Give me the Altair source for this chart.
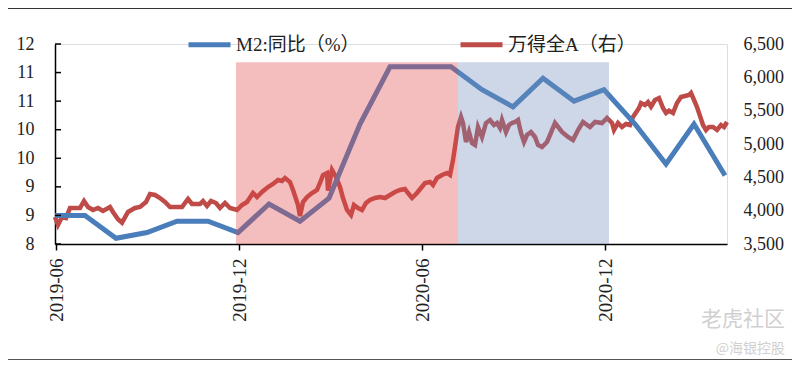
import altair as alt
import pandas as pd

# ---------------- data ----------------
series_names = ["M2:同比（%）", "万得全A（右）"]
series_colors = ["#4A7EBB", "#BE4B48"]

m2_dates = ["2019-05-31", "2019-06-30", "2019-07-31", "2019-08-31", "2019-09-30",
            "2019-10-31", "2019-11-30", "2019-12-31", "2020-01-31", "2020-02-29",
            "2020-03-31", "2020-04-30", "2020-05-31", "2020-06-30", "2020-07-31",
            "2020-08-31", "2020-09-30", "2020-10-31", "2020-11-30", "2020-12-31",
            "2021-01-31", "2021-02-28", "2021-03-31"]
m2_values = [8.5, 8.5, 8.1, 8.2, 8.4, 8.4, 8.2, 8.7, 8.4, 8.8, 10.1, 11.1, 11.1, 11.1,
             10.7, 10.4, 10.9, 10.5, 10.7, 10.1, 9.4, 10.1, 9.2]

wind_dates = [
    "2019-05-31", "2019-06-03", "2019-06-07", "2019-06-11", "2019-06-15", "2019-06-21",
    "2019-06-25", "2019-06-29", "2019-07-03", "2019-07-08", "2019-07-13", "2019-07-18",
    "2019-07-25", "2019-07-28", "2019-08-02", "2019-08-06", "2019-08-12", "2019-08-19",
    "2019-08-24", "2019-08-30", "2019-09-03", "2019-09-08", "2019-09-13", "2019-09-18",
    "2019-09-23", "2019-09-28", "2019-10-05", "2019-10-11", "2019-10-15", "2019-10-23",
    "2019-10-26", "2019-10-30", "2019-11-03", "2019-11-08", "2019-11-12", "2019-11-17",
    "2019-11-22", "2019-11-29", "2019-12-04", "2019-12-09", "2019-12-15", "2019-12-19",
    "2019-12-24", "2019-12-30", "2020-01-04", "2020-01-09", "2020-01-13", "2020-01-16",
    "2020-01-21", "2020-01-24", "2020-01-29", "2020-01-31", "2020-02-03", "2020-02-07",
    "2020-02-12", "2020-02-17", "2020-02-20", "2020-02-23", "2020-02-27", "2020-02-28",
    "2020-03-03", "2020-03-07", "2020-03-11", "2020-03-14", "2020-03-18", "2020-03-22",
    "2020-03-25", "2020-03-29", "2020-04-02", "2020-04-06", "2020-04-10", "2020-04-15",
    "2020-04-20", "2020-04-25", "2020-04-30", "2020-05-05", "2020-05-10", "2020-05-15",
    "2020-05-18", "2020-05-22", "2020-05-27", "2020-05-31", "2020-06-04", "2020-06-09",
    "2020-06-12", "2020-06-16", "2020-06-21", "2020-06-26", "2020-06-29", "2020-07-02",
    "2020-07-05", "2020-07-07", "2020-07-10", "2020-07-12", "2020-07-15", "2020-07-18",
    "2020-07-21", "2020-07-24", "2020-07-27", "2020-07-31", "2020-08-04", "2020-08-08",
    "2020-08-12", "2020-08-15", "2020-08-18", "2020-08-20", "2020-08-24", "2020-08-27",
    "2020-08-30", "2020-09-02", "2020-09-05", "2020-09-08", "2020-09-11", "2020-09-14",
    "2020-09-18", "2020-09-22", "2020-09-25", "2020-09-29", "2020-10-04", "2020-10-07",
    "2020-10-12", "2020-10-19", "2020-10-25", "2020-10-30", "2020-11-04", "2020-11-09",
    "2020-11-16", "2020-11-21", "2020-11-28", "2020-12-03", "2020-12-08", "2020-12-10",
    "2020-12-14", "2020-12-18", "2020-12-22", "2020-12-26", "2020-12-29", "2021-01-04",
    "2021-01-06", "2021-01-10", "2021-01-13", "2021-01-16", "2021-01-20", "2021-01-24",
    "2021-01-28", "2021-01-31", "2021-02-03", "2021-02-07", "2021-02-11", "2021-02-15",
    "2021-02-19", "2021-02-23", "2021-02-25", "2021-02-28", "2021-03-03", "2021-03-05",
    "2021-03-09", "2021-03-12", "2021-03-15", "2021-03-19", "2021-03-23", "2021-03-27",
    "2021-03-30", "2021-04-02"]
wind_values = [
    3905, 3785, 3905, 3890, 4040, 4040,
    4040, 4145, 4055, 4010, 4040, 3995,
    4055, 3980, 3870, 3820, 3980, 4040,
    4055, 4130, 4250, 4235, 4190, 4130,
    4055, 4055, 4055, 4175, 4100, 4100,
    4145, 4070, 4145, 4115, 4040, 4115,
    4040, 4010, 4085, 4130, 4265, 4205,
    4280, 4355, 4400, 4460, 4445, 4490,
    4430, 4310, 4085, 3920, 4130, 4205,
    4265, 4310, 4415, 4535, 4565, 4300,
    4610, 4505, 4355, 4190, 4010, 3935,
    4085, 4040, 4010, 4115, 4160, 4190,
    4205, 4190, 4235, 4280, 4310, 4325,
    4265, 4190, 4265, 4340, 4415, 4430,
    4385, 4490, 4535, 4565, 4535, 4760,
    5060, 5255, 5405, 5315, 5030, 5180,
    5015, 4985, 5255, 5105, 5315, 5360,
    5285, 5315, 5240, 5360, 5180, 5285,
    5315, 5330, 5360, 5165, 5030, 5135,
    5180, 5105, 4985, 4955, 5030, 5135,
    5315, 5180, 5105, 5060, 5210, 5330,
    5255, 5330, 5315, 5390, 5315, 5210,
    5315, 5255, 5300, 5285, 5405, 5540,
    5615, 5585, 5630, 5560, 5660, 5690,
    5540, 5465, 5500, 5465, 5615, 5705,
    5720, 5735, 5765, 5660, 5555, 5465,
    5285, 5210, 5255, 5255, 5210, 5285,
    5255, 5330]

shade_start = ["2019-11-28", "2020-07-07"]
shade_end = ["2020-07-07", "2020-12-05"]
shade_top = [11.18, 11.18]
shade_bottom = [8, 8]
shade_colors = ["#E24545", "#708DBD"]

left_ticks = [8, 8.5, 9, 9.5, 10, 10.5, 11, 11.5]
right_ticks = [3500, 4000, 4500, 5000, 5500, 6000, 6500]
x_tick_dates = ["2019-06-01", "2019-12-01", "2020-06-01", "2020-12-01"]
x_domain = ["2019-05-31", "2021-04-02"]

watermark = ["老虎社区", "@海银控股"]

# ---------------- frames ----------------
m2_df = pd.DataFrame({"date": pd.to_datetime(m2_dates), "m2": m2_values,
                      "series": series_names[0]})
wind_df = pd.DataFrame({"date": pd.to_datetime(wind_dates), "wind": wind_values,
                        "series": series_names[1]})
shade_df = pd.DataFrame({"s": pd.to_datetime(shade_start), "e": pd.to_datetime(shade_end),
                         "top": shade_top, "bot": shade_bottom, "c": shade_colors})
tick_df = pd.DataFrame({"t": left_ticks})


def dt(s):
    y, m, d = (int(p) for p in s.split("-"))
    return alt.DateTime(year=y, month=m, date=d)


FONT = "Liberation Serif, Times New Roman, Noto Sans CJK SC"
CJK = "Liberation Serif, Noto Sans CJK SC"

x_scale = alt.Scale(domain=[dt(d) for d in x_domain])
x_axis = alt.Axis(values=[dt(d) for d in x_tick_dates], format="%Y-%m", labelAngle=270,
                  title=None, grid=False, domainColor="#000", domainWidth=1.5,
                  tickColor="#000", tickWidth=1.5, tickSize=6, labelPadding=8,
                  labelFont=FONT, labelFontSize=19, labelColor="#222")


def X(field):
    return alt.X(field, type="temporal", scale=x_scale, axis=x_axis)


color = alt.Color("series:N",
                  scale=alt.Scale(domain=series_names, range=series_colors),
                  legend=alt.Legend(orient="none", legendX=131, legendY=-23,
                                    direction="horizontal", title=None,
                                    symbolType="stroke", symbolSize=1764,
                                    symbolStrokeWidth=5, labelFont=CJK,
                                    labelFontSize=19, labelColor="#222",
                                    labelOffset=3, columnPadding=90,
                                    labelLimit=400))

left_scale = alt.Scale(domain=[8, 11.5])
left_axis = alt.Axis(orient="left", values=left_ticks, labelExpr="'' + round(datum.value)",
                     title=None, grid=False, ticks=False, domainColor="#000",
                     domainWidth=1.5, labelPadding=21, labelFont=FONT,
                     labelFontSize=18, labelColor="#222")

red = alt.Chart(wind_df).mark_line(strokeWidth=4.5).encode(
    x=X("date"),
    y=alt.Y("wind:Q", scale=alt.Scale(domain=[3500, 6500]),
            axis=alt.Axis(orient="right", values=right_ticks,
                          labelExpr="format(datum.value, ',.0f')", title=None,
                          grid=False, domain=False, ticks=False, labelPadding=16,
                          labelFont=FONT, labelFontSize=18, labelColor="#222")),
    color=color,
)

blue = alt.Chart(m2_df).mark_line(strokeWidth=5).encode(
    x=X("date"),
    y=alt.Y("m2:Q", scale=left_scale, axis=left_axis),
    color=color,
)

shade = alt.Chart(shade_df).mark_rect(opacity=0.35).encode(
    x=X("s"), x2="e",
    y=alt.Y("top:Q", scale=left_scale, axis=left_axis), y2="bot",
    fill=alt.Fill("c:N", scale=None),
)

ticks = alt.Chart(tick_df).mark_rule(color="#000", strokeWidth=1.5).encode(
    y=alt.Y("t:Q", scale=left_scale, axis=left_axis),
    x=alt.value(0), x2=alt.value(6),
)

inner = alt.layer(blue, shade, ticks).resolve_scale(y="shared")

deco_df = pd.DataFrame({"w": watermark})
top_line = alt.Chart(deco_df.head(1)).mark_rule(color="#333", strokeWidth=2).encode(
    x=alt.value(-47), x2=alt.value(737), y=alt.value(-36))
bottom_line = alt.Chart(deco_df.head(1)).mark_rule(color="#555", strokeWidth=2).encode(
    x=alt.value(-47), x2=alt.value(737), y=alt.value(316))
wm1 = alt.Chart(deco_df.head(1)).mark_text(align="right", baseline="middle", fontSize=21,
                                           font="Noto Sans CJK SC", color="#D0D0D0").encode(
    text="w:N", x=alt.value(730), y=alt.value(276))
wm2 = alt.Chart(deco_df.tail(1)).mark_text(align="right", baseline="middle", fontSize=14,
                                           font="Noto Sans CJK SC", color="#D0D0D0").encode(
    text="w:N", x=alt.value(730), y=alt.value(305))

chart = alt.layer(red, inner).resolve_scale(y="independent")
chart = alt.layer(chart, top_line, bottom_line, wm1, wm2).properties(
    width=672, height=200,
    autosize=alt.AutoSizeParams(type="none"),
    padding={"left": 47, "top": 36, "right": 65, "bottom": 116},
).configure_view(stroke=None).configure(background="white")

chart.save("out.html", embed_options={"renderer": "svg", "actions": False})
